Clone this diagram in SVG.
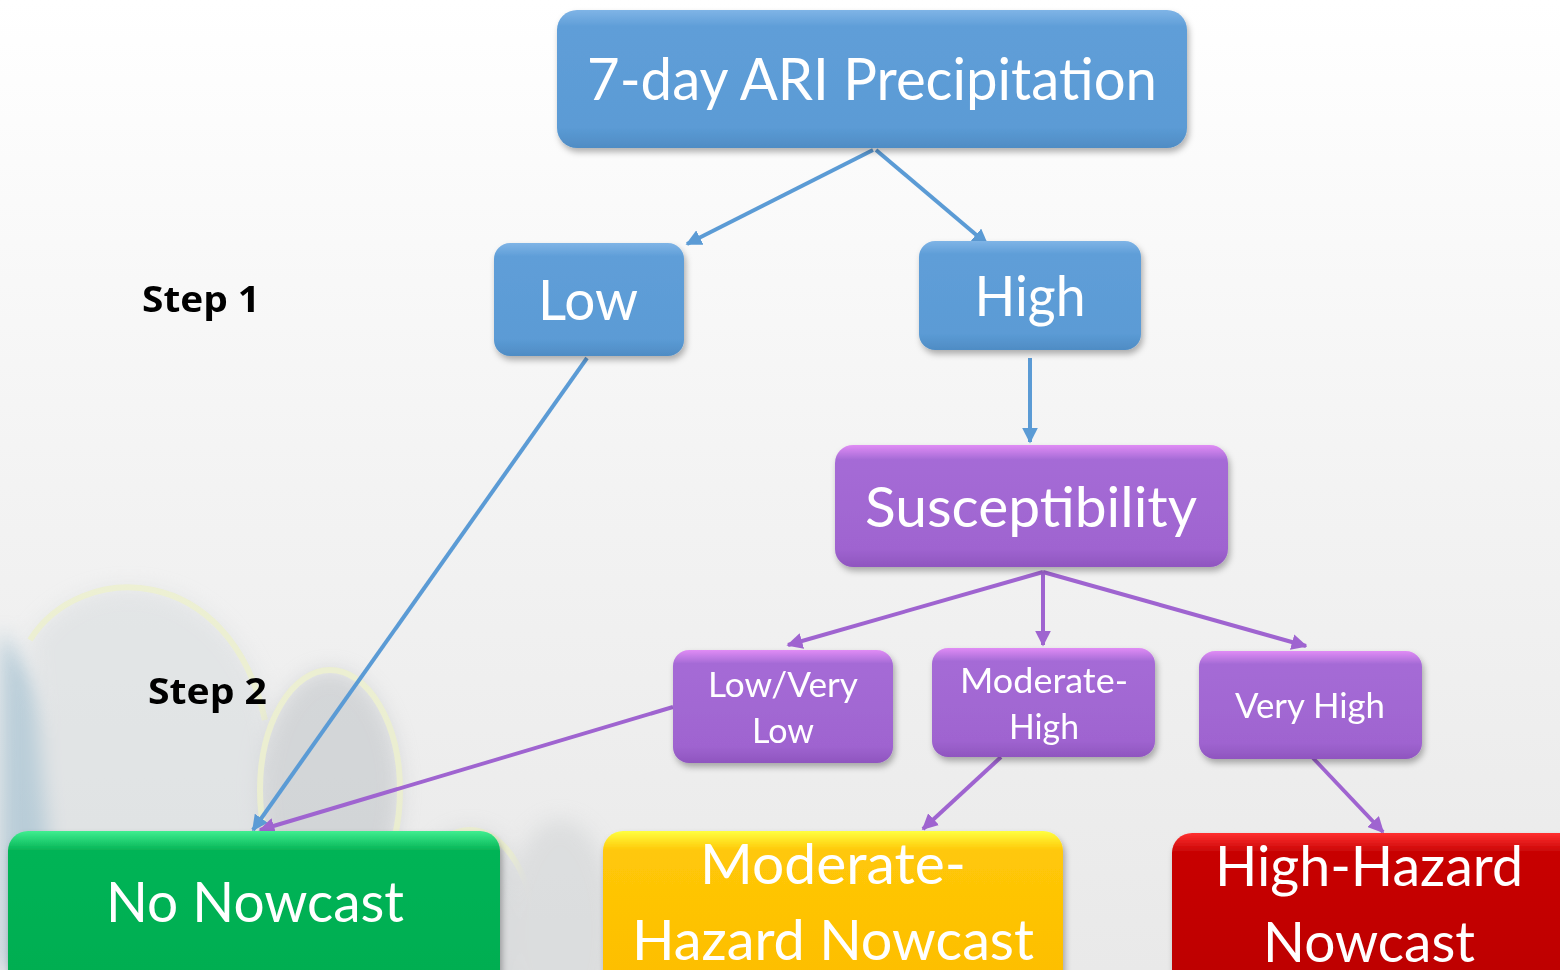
<svg xmlns="http://www.w3.org/2000/svg" width="1560" height="970" viewBox="0 0 1560 970">
  <defs>
    <linearGradient id="bg" x1="0" y1="0" x2="0" y2="1">
      <stop offset="0" stop-color="#ffffff"/>
      <stop offset="0.5" stop-color="#f3f3f3"/>
      <stop offset="1" stop-color="#e9e9e9"/>
    </linearGradient>
    <linearGradient id="gBlue" x1="0" y1="0" x2="0" y2="1">
      <stop offset="0" stop-color="#7fb4e6"/>
      <stop offset="0.12" stop-color="#5f9ed8"/>
      <stop offset="0.85" stop-color="#5b9bd5"/>
      <stop offset="1" stop-color="#4f8cc4"/>
    </linearGradient>
    <linearGradient id="gPurple" x1="0" y1="0" x2="0" y2="1">
      <stop offset="0" stop-color="#e08cf5"/>
      <stop offset="0.12" stop-color="#a56bd6"/>
      <stop offset="0.85" stop-color="#9f64d0"/>
      <stop offset="1" stop-color="#8f55bf"/>
    </linearGradient>
    <linearGradient id="gGreen" x1="0" y1="0" x2="0" y2="1">
      <stop offset="0" stop-color="#40ee90"/>
      <stop offset="0.12" stop-color="#05b456"/>
      <stop offset="1" stop-color="#00ad50"/>
    </linearGradient>
    <linearGradient id="gYellow" x1="0" y1="0" x2="0" y2="1">
      <stop offset="0" stop-color="#ffff40"/>
      <stop offset="0.12" stop-color="#ffc808"/>
      <stop offset="1" stop-color="#fdbd00"/>
    </linearGradient>
    <linearGradient id="gRed" x1="0" y1="0" x2="0" y2="1">
      <stop offset="0" stop-color="#ff3030"/>
      <stop offset="0.12" stop-color="#c80404"/>
      <stop offset="1" stop-color="#bc0000"/>
    </linearGradient>
    <filter id="shadow" x="-10%" y="-10%" width="120%" height="130%">
      <feDropShadow dx="2" dy="4" stdDeviation="3" flood-color="#000" flood-opacity="0.3"/>
    </filter>
    <filter id="soft" x="-30%" y="-30%" width="160%" height="160%">
      <feGaussianBlur stdDeviation="10"/>
    </filter>
    <marker id="arrB" viewBox="0 0 10 10" refX="9" refY="5" markerWidth="4" markerHeight="4" orient="auto" markerUnits="strokeWidth">
      <path d="M0,0 L10,5 L0,10 z" fill="#5b9bd5"/>
    </marker>
    <marker id="arrP" viewBox="0 0 10 10" refX="9" refY="5" markerWidth="4" markerHeight="4" orient="auto" markerUnits="strokeWidth">
      <path d="M0,0 L10,5 L0,10 z" fill="#9f64d0"/>
    </marker>
  </defs>
  <style>
    .node rect { filter: url(#shadow); }
    .lbl { font-family: Lato, "Open Sans", "Liberation Sans", sans-serif; fill: #ffffff; text-anchor: middle; }
    .step { font-family: "Open Sans", "Liberation Sans", sans-serif; font-weight: bold; font-size: 36px; fill: #000; }
    .cb { stroke: #5b9bd5; stroke-width: 4; fill: none; marker-end: url(#arrB); }
    .cp { stroke: #9f64d0; stroke-width: 4; fill: none; marker-end: url(#arrP); }
    .ring { fill: none; stroke: #e8eeb4; stroke-width: 6; }
  </style>

  <!-- background -->
  <rect width="1560" height="970" fill="url(#bg)"/>
  <g id="backdrop" opacity="0.5">
    <path d="M0,630 C50,690 110,800 140,970 L0,970 Z" fill="#86aec4" filter="url(#soft)"/>
    <path d="M30,640 C80,560 230,560 270,720 L300,970 L60,970 Z" fill="#d5dadd" filter="url(#soft)"/>
    <path d="M30,640 C80,560 230,560 265,720" class="ring"/>
    <ellipse cx="330" cy="790" rx="70" ry="120" fill="#b9bec2" filter="url(#soft)"/>
    <ellipse cx="330" cy="790" rx="70" ry="120" class="ring"/>
    <ellipse cx="470" cy="940" rx="65" ry="110" fill="#c5c9cc" filter="url(#soft)"/>
    <ellipse cx="470" cy="940" rx="65" ry="110" class="ring"/>
    <ellipse cx="560" cy="930" rx="55" ry="110" fill="#cdd0d2" filter="url(#soft)"/>
  </g>

  <!-- step labels -->
  <text class="step" x="142" y="312" textLength="118" lengthAdjust="spacingAndGlyphs">Step 1</text>
  <text class="step" x="148" y="704" textLength="119" lengthAdjust="spacingAndGlyphs">Step 2</text>

  <!-- connectors -->
  <g id="connectors">
    <line class="cb" x1="873" y1="150" x2="687" y2="244"/>
    <line class="cb" x1="876" y1="150" x2="987" y2="244"/>
    <line class="cb" x1="1030" y1="358" x2="1030" y2="442"/>
    <line class="cb" x1="587" y1="358" x2="253" y2="830"/>
    <line class="cp" x1="1043" y1="572" x2="788" y2="645"/>
    <line class="cp" x1="1043" y1="572" x2="1043" y2="645"/>
    <line class="cp" x1="1043" y1="572" x2="1306" y2="646"/>
    <line class="cp" x1="673" y1="707" x2="260" y2="830"/>
    <line class="cp" x1="1001" y1="757" x2="923" y2="829"/>
    <line class="cp" x1="1313" y1="758" x2="1383" y2="832"/>
  </g>

  <!-- nodes -->
  <g id="n-precip" class="node">
    <rect x="557" y="10" width="630" height="138" rx="20" fill="url(#gBlue)"/>
    <text class="lbl" x="872" y="100" font-size="58" textLength="570" lengthAdjust="spacingAndGlyphs">7-day ARI Precipitation</text>
  </g>
  <g id="n-low" class="node">
    <rect x="494" y="243" width="190" height="113" rx="16" fill="url(#gBlue)"/>
    <text class="lbl" x="588" y="320" font-size="56" textLength="100" lengthAdjust="spacingAndGlyphs">Low</text>
  </g>
  <g id="n-high" class="node">
    <rect x="919" y="241" width="222" height="109" rx="16" fill="url(#gBlue)"/>
    <text class="lbl" x="1030" y="316" font-size="56" textLength="111" lengthAdjust="spacingAndGlyphs">High</text>
  </g>
  <g id="n-suscept" class="node">
    <rect x="835" y="445" width="393" height="122" rx="18" fill="url(#gPurple)"/>
    <text class="lbl" x="1031" y="527" font-size="56" textLength="332" lengthAdjust="spacingAndGlyphs">Susceptibility</text>
  </g>
  <g id="n-lowvery" class="node">
    <rect x="673" y="650" width="220" height="113" rx="16" fill="url(#gPurple)"/>
    <text class="lbl" x="783" y="697" font-size="34" textLength="150" lengthAdjust="spacingAndGlyphs">Low/Very</text>
    <text class="lbl" x="783" y="743" font-size="34" textLength="62" lengthAdjust="spacingAndGlyphs">Low</text>
  </g>
  <g id="n-modhigh" class="node">
    <rect x="932" y="648" width="223" height="109" rx="16" fill="url(#gPurple)"/>
    <text class="lbl" x="1044" y="693" font-size="34" textLength="168" lengthAdjust="spacingAndGlyphs">Moderate-</text>
    <text class="lbl" x="1044" y="739" font-size="34" textLength="70" lengthAdjust="spacingAndGlyphs">High</text>
  </g>
  <g id="n-veryhigh" class="node">
    <rect x="1199" y="651" width="223" height="108" rx="16" fill="url(#gPurple)"/>
    <text class="lbl" x="1310" y="718" font-size="34" textLength="150" lengthAdjust="spacingAndGlyphs">Very High</text>
  </g>
  <g id="n-none" class="node">
    <rect x="8" y="831" width="492" height="160" rx="20" fill="url(#gGreen)"/>
    <text class="lbl" x="255" y="922" font-size="56" textLength="298" lengthAdjust="spacingAndGlyphs">No Nowcast</text>
  </g>
  <g id="n-moderate" class="node">
    <rect x="603" y="831" width="460" height="160" rx="20" fill="url(#gYellow)"/>
    <text class="lbl" x="833" y="884" font-size="56" textLength="266" lengthAdjust="spacingAndGlyphs">Moderate-</text>
    <text class="lbl" x="833" y="960" font-size="56" textLength="402" lengthAdjust="spacingAndGlyphs">Hazard Nowcast</text>
  </g>
  <g id="n-highhaz" class="node">
    <rect x="1172" y="833" width="410" height="160" rx="20" fill="url(#gRed)"/>
    <text class="lbl" x="1369" y="886" font-size="56" textLength="308" lengthAdjust="spacingAndGlyphs">High-Hazard</text>
    <text class="lbl" x="1369" y="962" font-size="56" textLength="212" lengthAdjust="spacingAndGlyphs">Nowcast</text>
  </g>
</svg>
